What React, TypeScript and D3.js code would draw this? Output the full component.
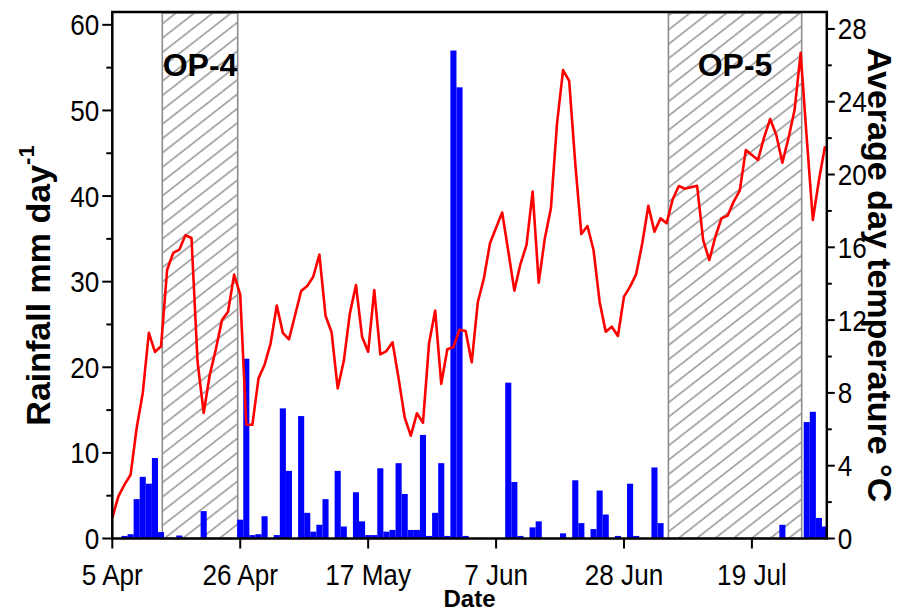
import React from "react";
import * as d3 from "d3";

// Daily series start on 5 April; index i is 5 Apr + i days.
const START = Date.UTC(2013, 3, 5);
const DAY = 86400000;

// Daily rainfall (mm day-1)
const rainfall = [
  0, 0, 0.3, 0.5, 4.6, 7.2, 6.4, 9.4, 0.75, 0,
  0, 0.35, 0, 0, 0, 3.2, 0, 0, 0, 0,
  0, 2.2, 21.0, 0.4, 0.5, 2.6, 0, 0.4, 15.2, 7.9,
  0, 14.3, 3.0, 0.8, 1.6, 4.6, 0, 7.9, 1.4, 0,
  5.4, 2.0, 0.4, 0.4, 8.2, 0.8, 1.0, 8.8, 5.2, 1.0,
  1.0, 12.1, 0.3, 3.0, 8.8, 0.3, 57.0, 52.7, 0.3, 0,
  0, 0, 0, 0, 0, 18.2, 6.6, 0.3, 0, 1.3,
  2.0, 0, 0, 0, 0.6, 0, 6.8, 1.8, 0, 1.1,
  5.6, 2.8, 0, 0.3, 0, 6.4, 0.3, 0, 0, 8.3,
  1.8, 0, 0, 0, 0, 0, 0, 0, 0, 0,
  0, 0, 0, 0, 0, 0, 0, 0, 0, 0,
  1.6, 0, 0, 0, 13.6, 14.8, 2.4, 1.4,
];

// Average day temperature (°C)
const temperature = [
  1.13, 2.32, 2.96, 3.5, 6.07, 8.0, 11.3, 10.25, 10.56, 14.77,
  15.69, 15.87, 16.66, 16.51, 9.7, 6.9, 9.0, 10.4, 12.0, 12.46,
  14.5, 13.4, 6.25, 6.25, 8.8, 9.55, 10.74, 12.8, 11.3, 10.94,
  12.27, 13.6, 13.87, 14.4, 15.6, 12.24, 11.33, 8.25, 9.75, 12.37,
  13.93, 11.09, 10.26, 13.65, 10.12, 10.3, 10.78, 8.8, 6.64, 5.65,
  6.88, 6.36, 10.73, 12.52, 8.5, 10.4, 10.52, 11.47, 11.4, 9.68,
  12.98, 14.3, 16.22, 17.07, 17.91, 15.8, 13.62, 15.08, 16.13, 19.06,
  14.06, 16.49, 18.14, 22.8, 25.74, 25.15, 20.6, 16.73, 17.17, 15.85,
  13.0, 11.36, 11.64, 11.13, 13.29, 13.84, 14.53, 16.22, 18.28, 16.86,
  17.59, 17.32, 18.64, 19.37, 19.22, 19.3, 19.38, 16.4, 15.3, 16.58,
  17.59, 17.74, 18.51, 19.11, 21.35, 21.07, 20.8, 22.04, 23.05, 22.17,
  20.65, 21.99, 23.54, 26.69, 22.0, 17.5, 19.7, 21.55,
];

const dateTicks = ["2013-04-05", "2013-04-26", "2013-05-17", "2013-06-07", "2013-06-28", "2013-07-19"];
const rainTicks = [0, 10, 20, 30, 40, 50, 60];
const rainMinorTicks = [5, 15, 25, 35, 45, 55];
const tempTicks = [0, 4, 8, 12, 16, 20, 24, 28];
const tempMinorTicks = [2, 6, 10, 14, 18, 22, 26];

// Observation periods (hatched)
const periodLabels = ["OP-4", "OP-5"];
const periodStarts = ["2013-04-13T05:00Z", "2013-07-05T07:00Z"];
const periodEnds = ["2013-04-25T14:00Z", "2013-07-27T04:00Z"];

const W = 916;
const H = 612;
const left = 112.3;
const right = 826.8;
const top = 12;
const bottom = 538.5;

const FONT = "'Liberation Sans', Arial, Helvetica, sans-serif";
const NARROW = 0.87;

export default function App() {
  const dates = rainfall.map((_, i) => new Date(START + i * DAY));
  const x = d3
    .scaleUtc()
    .domain([new Date(START), new Date("2013-07-31T07:00Z")])
    .range([left, right]);
  const yRain = d3.scaleLinear().domain([0, 61.5]).range([bottom, top]);
  const yTemp = d3.scaleLinear().domain([0, 28.93]).range([bottom, top]);
  const bw = x(new Date(START + DAY)) - x(new Date(START));

  const line = d3
    .line<number>()
    .x((_, i) => x(dates[i]))
    .y((d) => yTemp(d));

  const fmt = d3.utcFormat("%-d %b");

  return (
    <svg
      width={W}
      height={H}
      viewBox={`0 0 ${W} ${H}`}
      style={{ position: "absolute", left: 0, top: 0, background: "#fff" }}
      fontFamily={FONT}
    >
      <defs>
        <pattern
          id="hatch"
          patternUnits="userSpaceOnUse"
          width={12}
          height={11.3}
          patternTransform="rotate(-38)"
        >
          <rect width={12} height={11.3} fill="#fff" />
          <line x1={-1} x2={13} y1={5.65} y2={5.65} stroke="#747474" strokeWidth={1.15} />
        </pattern>
        <clipPath id="plot">
          <rect x={left} y={top} width={right - left} height={bottom - top} />
        </clipPath>
      </defs>

      <rect x={0} y={0} width={W} height={H} fill="#fff" />

      {/* observation periods */}
      {periodLabels.map((lab, i) => {
        const x0 = x(new Date(periodStarts[i]));
        const x1 = x(new Date(periodEnds[i]));
        return (
          <rect
            key={lab}
            x={x0}
            y={top + 1}
            width={x1 - x0}
            height={bottom - top - 1}
            fill="url(#hatch)"
            stroke="#8c8c8c"
            strokeWidth={1.6}
          />
        );
      })}

      {/* rainfall bars and temperature line */}
      <g clipPath="url(#plot)">
        {rainfall.map((v, i) =>
          v > 0 ? (
            <rect
              key={i}
              x={x(dates[i]) - bw / 2}
              y={yRain(v)}
              width={bw}
              height={bottom - yRain(v)}
              fill="#0000ff"
            />
          ) : null
        )}
        <path d={line(temperature) || ""} fill="none" stroke="#ff0000" strokeWidth={2.6} strokeLinejoin="round" />
      </g>

      {periodLabels.map((lab, i) => {
        const cx = (x(new Date(periodStarts[i])) + x(new Date(periodEnds[i]))) / 2;
        return (
          <text key={lab} x={cx} y={76} textAnchor="middle" fontSize={32} fontWeight="bold" fill="#000">
            {lab}
          </text>
        );
      })}

      {/* frame */}
      <rect x={left} y={top} width={right - left} height={bottom - top} fill="none" stroke="#000" strokeWidth={2.5} />

      {/* left axis ticks */}
      {rainTicks.map((t) => (
        <g key={`l${t}`}>
          <line x1={left - 10} x2={left} y1={yRain(t)} y2={yRain(t)} stroke="#000" strokeWidth={2} />
          <text
            transform={`translate(${left - 13},${yRain(t) + 10.5}) scale(${NARROW},1)`}
            textAnchor="end"
            fontSize={30}
            fill="#000"
          >
            {t}
          </text>
        </g>
      ))}
      {rainMinorTicks.map((t) => (
        <line key={`lm${t}`} x1={left - 6} x2={left} y1={yRain(t)} y2={yRain(t)} stroke="#000" strokeWidth={2} />
      ))}

      {/* right axis ticks */}
      {tempTicks.map((t) => (
        <g key={`r${t}`}>
          <line x1={right} x2={right + 8} y1={yTemp(t)} y2={yTemp(t)} stroke="#000" strokeWidth={2} />
          <text
            transform={`translate(${right + 11},${yTemp(t) + 10.5}) scale(${NARROW},1)`}
            textAnchor="start"
            fontSize={30}
            fill="#000"
          >
            {t}
          </text>
        </g>
      ))}
      {tempMinorTicks.map((t) => (
        <line key={`rm${t}`} x1={right} x2={right + 5} y1={yTemp(t)} y2={yTemp(t)} stroke="#000" strokeWidth={2} />
      ))}

      {/* bottom axis ticks */}
      {dateTicks.map((s) => {
        const d = new Date(s + "T00:00Z");
        return (
          <g key={s}>
            <line x1={x(d)} x2={x(d)} y1={bottom} y2={bottom + 10} stroke="#000" strokeWidth={2} />
            <text
              transform={`translate(${x(d)},${bottom + 46}) scale(${NARROW},1)`}
              textAnchor="middle"
              fontSize={30}
              fill="#000"
            >
              {fmt(d)}
            </text>
          </g>
        );
      })}

      {/* axis titles */}
      <text x={(left + right) / 2} y={607} textAnchor="middle" fontSize={24} fontWeight="bold" fill="#000">
        Date
      </text>
      <text
        transform={`translate(50,${285.5}) rotate(-90)`}
        textAnchor="middle"
        fontSize={34}
        fontWeight="bold"
        fill="#000"
      >
        Rainfall mm day
        <tspan fontSize={22} dy={-16}>-1</tspan>
      </text>
      <text
        transform={`translate(868,${275}) rotate(90)`}
        textAnchor="middle"
        fontSize={34}
        fontWeight="bold"
        fill="#000"
      >
        Average day temperature °C
      </text>
    </svg>
  );
}
